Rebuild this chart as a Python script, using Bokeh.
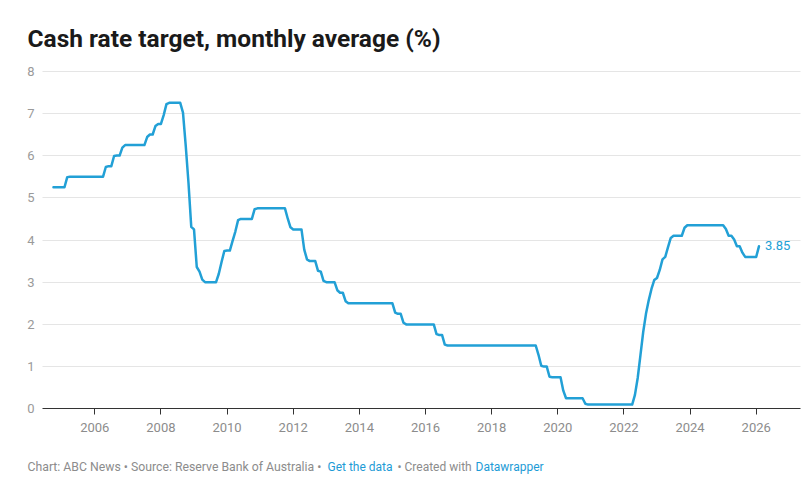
from bokeh.plotting import figure
from bokeh.models import Range1d, FixedTicker, Label, PrintfTickFormatter, Grid
from bokeh.embed import file_html
from bokeh.resources import INLINE

# ---- data: RBA cash rate target, monthly average (%) ----
# breakpoints of the monthly series (values between equal neighbours are flat)
months = [
    "2004-10", "2005-02", "2005-03", "2005-04", "2006-04", "2006-05", "2006-06",
    "2006-07", "2006-08", "2006-09", "2006-10", "2006-11", "2006-12", "2007-07",
    "2007-08", "2007-09", "2007-10", "2007-11", "2007-12", "2008-01", "2008-02",
    "2008-03", "2008-04", "2008-08", "2008-09", "2008-10", "2008-11", "2008-12",
    "2009-01", "2009-02", "2009-03", "2009-04", "2009-05", "2009-09", "2009-10",
    "2009-11", "2009-12", "2010-01", "2010-02", "2010-03", "2010-04", "2010-05",
    "2010-06", "2010-10", "2010-11", "2010-12", "2011-10", "2011-11", "2011-12",
    "2012-01", "2012-04", "2012-05", "2012-06", "2012-07", "2012-09", "2012-10",
    "2012-11", "2012-12", "2013-01", "2013-04", "2013-05", "2013-06", "2013-07",
    "2013-08", "2013-09", "2015-01", "2015-02", "2015-03", "2015-04", "2015-05",
    "2015-06", "2016-04", "2016-05", "2016-06", "2016-07", "2016-08", "2016-09",
    "2019-05", "2019-06", "2019-07", "2019-08", "2019-09", "2019-10", "2019-11",
    "2020-02", "2020-03", "2020-04", "2020-10", "2020-11", "2020-12", "2022-04",
    "2022-05", "2022-06", "2022-07", "2022-08", "2022-09", "2022-10", "2022-11",
    "2022-12", "2023-01", "2023-02", "2023-03", "2023-04", "2023-05", "2023-06",
    "2023-07", "2023-10", "2023-11", "2023-12", "2025-01", "2025-02", "2025-03",
    "2025-04", "2025-05", "2025-06", "2025-07", "2025-08", "2025-09", "2026-01",
    "2026-02",
]
rates = [
    5.25, 5.25, 5.49, 5.50, 5.50, 5.73, 5.75,
    5.75, 5.99, 6.00, 6.00, 6.19, 6.25, 6.25,
    6.44, 6.50, 6.50, 6.70, 6.75, 6.75, 6.96,
    7.22, 7.25, 7.25, 7.02, 6.23, 5.35, 4.31,
    4.25, 3.36, 3.25, 3.06, 3.00, 3.00, 3.20,
    3.48, 3.74, 3.75, 3.75, 3.98, 4.20, 4.47,
    4.50, 4.50, 4.73, 4.75, 4.75, 4.51, 4.30,
    4.25, 4.25, 3.77, 3.54, 3.50, 3.50, 3.27,
    3.25, 3.03, 3.00, 3.00, 2.81, 2.75, 2.75,
    2.55, 2.50, 2.50, 2.28, 2.25, 2.25, 2.04,
    2.00, 2.00, 1.77, 1.75, 1.75, 1.52, 1.50,
    1.50, 1.28, 1.02, 1.00, 1.00, 0.76, 0.75,
    0.75, 0.43, 0.25, 0.25, 0.12, 0.10, 0.10,
    0.33, 0.73, 1.27, 1.82, 2.25, 2.57, 2.84,
    3.05, 3.10, 3.29, 3.54, 3.60, 3.83, 4.05,
    4.10, 4.10, 4.29, 4.35, 4.35, 4.26, 4.10,
    4.10, 4.01, 3.85, 3.85, 3.70, 3.60, 3.60,
    3.85,
]
year_ticks = [2006, 2008, 2010, 2012, 2014, 2016, 2018, 2020, 2022, 2024, 2026]
value_ticks = [0, 1, 2, 3, 4, 5, 6, 7, 8]

title_text = "Cash rate target, monthly average (%)"
footer_parts = [
    ("Chart: ABC News \u2022 Source: Reserve Bank of Australia \u2022", "grey", "12.25px"),
    ("Get the data", "link", "12px"),
    ("\u2022 Created with", "grey", "12px"),
    ("Datawrapper", "link", "12px"),
]

# ---- style / geometry ----
LINE = "#22a0d6"
LINK = "#1d9bd6"
GREY = "#8c8c8c"
FONT = "Roboto"
W, H = 810, 483
PX0, PXY, PXW = 94.3, 2006, 33.07      # pixel of 2006 tick, px per year
PY0, PYU = 408.3, 42.2                 # pixel of value 0, px per unit
AX_X0, AX_X1 = 2004.42, 2027.34        # plot-area extent in years

x = [int(m[:4]) + (int(m[5:]) - 1) / 12 for m in months]

p = figure(
    width=W, height=H,
    x_range=Range1d(PXY - PX0 / PXW, PXY + (W - PX0) / PXW),
    y_range=Range1d((PY0 - H) / PYU, PY0 / PYU),
    output_backend="svg", toolbar_location=None, min_border=0,
)
p.outline_line_color = None
p.background_fill_color = "white"
p.border_fill_color = "white"

# axes (fixed inside the frame so title/footer can live in the frame too)
xa = p.xaxis[0]
xa.fixed_location = 0
xa.bounds = (AX_X0, AX_X1)
xa.ticker = FixedTicker(ticks=year_ticks)
xa.formatter = PrintfTickFormatter(format="%d")
xa.axis_line_color = "#333333"
xa.axis_line_width = 1
xa.major_tick_line_color = "#333333"
xa.major_tick_out = 6
xa.major_tick_in = 0
xa.minor_tick_line_color = None
xa.major_label_standoff = 8
xa.major_label_text_font = FONT
xa.major_label_text_font_size = "13px"
xa.major_label_text_color = GREY

ya = p.yaxis[0]
ya.fixed_location = AX_X0
ya.bounds = (0, 8)
ya.ticker = FixedTicker(ticks=value_ticks)
ya.axis_line_color = None
ya.major_tick_line_color = None
ya.minor_tick_line_color = None
ya.major_tick_out = 0
ya.major_tick_in = 0
ya.major_label_standoff = 8
ya.major_label_text_font = FONT
ya.major_label_text_font_size = "13px"
ya.major_label_text_color = "#9a9a9a"

p.xgrid.grid_line_color = None
if "cross_bounds" in Grid.properties():
    p.ygrid.ticker = FixedTicker(ticks=value_ticks[1:])
    p.ygrid.cross_bounds = (AX_X0, AX_X1)
    p.ygrid.grid_line_color = "#e5e5e5"
    p.ygrid.grid_line_width = 1
else:
    p.ygrid.grid_line_color = None
    gy = value_ticks[1:]
    p.segment(x0=[AX_X0] * len(gy), x1=[AX_X1] * len(gy), y0=gy, y1=gy,
              line_color="#e5e5e5", line_width=1, level="underlay")

p.line(x, rates, line_color=LINE, line_width=2.5, line_join="round", line_cap="round")

# end label
p.add_layout(Label(x=x[-1], y=rates[-1], text=f"{rates[-1]:.2f}", x_offset=6, y_offset=1,
                   text_baseline="middle", text_align="left", text_font=FONT,
                   text_font_size="13px", text_color=LINE))

# title (screen units: x from left, y up from bottom of canvas)
p.add_layout(Label(x=27, y=H - 37.5, x_units="screen", y_units="screen", text=title_text,
                   text_font=FONT, text_font_style="bold", text_font_size="24.5px",
                   text_color="#1a1a1a", text_baseline="middle"))

# footer
fx = [27, 327, 397, 475]
for (txt, kind, fs), xx in zip(footer_parts, fx):
    p.add_layout(Label(x=xx, y=H - 466, x_units="screen", y_units="screen", text=txt,
                       text_font=FONT, text_font_size=fs,
                       text_color=LINK if kind == "link" else GREY,
                       text_baseline="middle"))

open("out.html", "w").write(file_html(p, INLINE))
